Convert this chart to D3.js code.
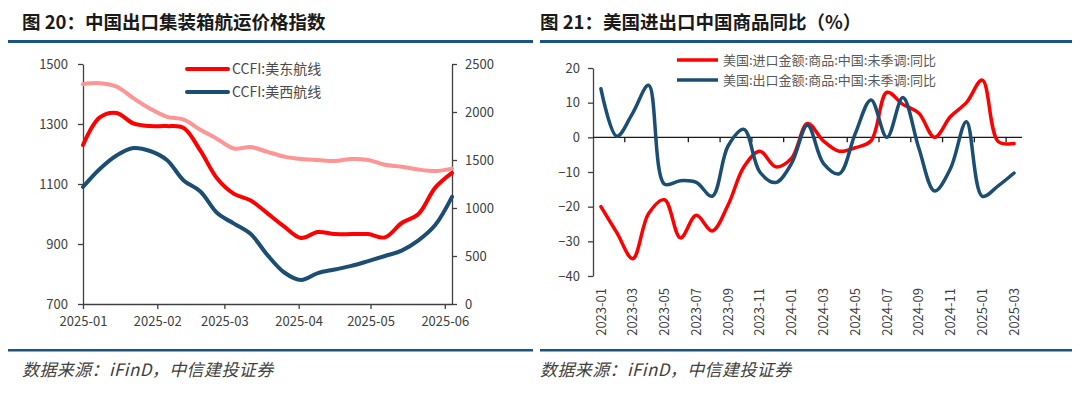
<!DOCTYPE html>
<html>
<head>
<meta charset="utf-8">
<script src="https://cdn.jsdelivr.net/npm/d3@7"></script>
<style>
body{margin:0;background:#fff;}
text{font-family:"Noto Sans CJK SC","Noto Sans",sans-serif;}
</style>
</head>
<body>
<div id="chart"></div>
<script>
// ---- 图20 数据（周度） ----
var datesCCFI = ["2025-01-01","2025-01-08","2025-01-15","2025-01-22","2025-01-29",
  "2025-02-05","2025-02-12","2025-02-19","2025-02-26","2025-03-05","2025-03-12",
  "2025-03-19","2025-03-26","2025-04-02","2025-04-09","2025-04-16","2025-04-23",
  "2025-04-30","2025-05-07","2025-05-14","2025-05-21","2025-05-28","2025-06-04"];
// 左轴
var ccfiEast = [1230,1322,1337,1302,1293,1293,1287,1211,1118,1067,1045,1002,958,920,
  940,933,933,933,922,970,1000,1088,1137];
var ccfiWest = [1090,1150,1195,1220,1210,1180,1112,1075,1003,968,933,863,805,780,
  803,815,827,843,860,878,912,963,1057];
// 浅红线（无图例），右轴
var ccfiOther = [2290,2300,2265,2145,2035,1950,1920,1815,1720,1620,1635,1585,1535,
  1510,1500,1490,1510,1500,1450,1430,1400,1385,1410];
var leftTicks = [700,900,1100,1300,1500];
var rightTicks = [0,500,1000,1500,2000,2500];
var monthTicks = ["2025-01","2025-02","2025-03","2025-04","2025-05","2025-06"];

// ---- 图21 数据（月度，%） ----
var months = ["2023-01","2023-02","2023-03","2023-04","2023-05","2023-06","2023-07",
  "2023-08","2023-09","2023-10","2023-11","2023-12","2024-01","2024-02","2024-03",
  "2024-04","2024-05","2024-06","2024-07","2024-08","2024-09","2024-10","2024-11",
  "2024-12","2025-01","2025-02","2025-03"];
var importYoY = [-20,-27.5,-35,-22,-18,-29,-22.5,-27,-19.5,-8.5,-4,-8.5,-6,4,-1,-4,-3,
  -1,13,9.5,7,0,6,10,16.5,-1.2,-1.8];
var exportYoY = [14,0.3,7,15,-13.5,-12.5,-13,-17,-2.5,2.3,-10,-13,-7.5,3.5,-7.5,-10.5,
  1,10.8,0,11.5,-3,-15.5,-9,4.5,-17,-14,-10.3];
var yTicks21 = [-40,-30,-20,-10,0,10,20];

var red = "#ff0000", navy = "#1b4e72", pink = "#ff9494";
var ruleColor = "#1c5582", axisColor = "#404040", labelColor = "#404040";

var svg = d3.select("#chart").append("svg")
  .attr("width",1080).attr("height",393);

// 标题、横线、来源
function frame(x0,x1,tx,title){
  svg.append("text").attr("x",tx).attr("y",29)
    .attr("font-size","18.5px").attr("font-weight","bold").attr("fill","#1a1a1a")
    .text(title);
  svg.append("rect").attr("x",x0).attr("y",40).attr("width",x1-x0).attr("height",3)
    .attr("fill",ruleColor);
  svg.append("rect").attr("x",x0).attr("y",349).attr("width",x1-x0).attr("height",2.5)
    .attr("fill",ruleColor);
  svg.append("text").attr("x",tx).attr("y",376)
    .attr("font-size","17px").attr("font-style","italic").attr("letter-spacing","0.4px")
    .attr("fill",labelColor)
    .text("数据来源：iFinD，中信建投证券");
}
frame(8,533,22,"图 20：中国出口集装箱航运价格指数");
frame(540,1072,540,"图 21：美国进出口中国商品同比（%）");

function styleAxis(g){
  g.select(".domain").attr("stroke",axisColor).attr("stroke-width",1.3);
  g.selectAll(".tick line").attr("stroke",axisColor).attr("stroke-width",1.3);
  g.selectAll(".tick text").attr("fill",labelColor).attr("font-size","13px")
    .attr("font-family","'Noto Sans CJK SC','Noto Sans',sans-serif");
}

// ================= 图20 =================
var parseDay = d3.timeParse("%Y-%m-%d"), parseMonth = d3.timeParse("%Y-%m");
var x20 = d3.scaleTime().domain([parseDay("2025-01-01"),parseDay("2025-06-04")]).range([83,452]);
var yL = d3.scaleLinear().domain([700,1500]).range([304,64]);
var yR = d3.scaleLinear().domain([0,2500]).range([304,64]);

svg.append("g").attr("transform","translate(83,0)")
  .call(d3.axisLeft(yL).tickValues(leftTicks).tickFormat(d3.format("d"))
    .tickSize(5).tickSizeOuter(0).tickPadding(10))
  .call(styleAxis);
svg.append("g").attr("transform","translate(452,0)")
  .call(d3.axisRight(yR).tickValues(rightTicks).tickFormat(d3.format("d"))
    .tickSize(5).tickSizeOuter(0).tickPadding(8))
  .call(styleAxis);
svg.append("g").attr("transform","translate(0,304)")
  .call(d3.axisBottom(x20).tickValues(monthTicks.map(parseMonth)).tickSize(5).tickSizeOuter(0)
    .tickPadding(8).tickFormat(d3.timeFormat("%Y-%m")))
  .call(styleAxis);

function drawSeries(xs,vals,xf,yf,color,w){
  var line = d3.line().curve(d3.curveCatmullRom.alpha(0.5))
    .x(function(d){return xf(d[0]);}).y(function(d){return yf(d[1]);});
  svg.append("path").datum(xs.map(function(v,i){return [v,vals[i]];}))
    .attr("d",line).attr("fill","none").attr("stroke",color)
    .attr("stroke-width",w).attr("stroke-linecap","round").attr("stroke-linejoin","round");
}
var dts = datesCCFI.map(parseDay);
drawSeries(dts,ccfiOther,x20,yR,pink,4);
drawSeries(dts,ccfiWest,x20,yL,navy,4);
drawSeries(dts,ccfiEast,x20,yL,red,4);

// 图例
var leg20 = [["CCFI:美东航线",red],["CCFI:美西航线",navy]];
leg20.forEach(function(l,i){
  var yy = 69 + i*23;
  svg.append("line").attr("x1",187).attr("x2",228).attr("y1",yy).attr("y2",yy)
    .attr("stroke",l[1]).attr("stroke-width",4).attr("stroke-linecap","round");
  svg.append("text").attr("x",232).attr("y",yy+5).attr("font-size","14px")
    .attr("fill","#4a4a4a").text(l[0]);
});

// ================= 图21 =================
var x21 = d3.scaleBand().domain(months).range([593,1022]).padding(0);
var y21 = d3.scaleLinear().domain([-40,20]).range([276,68]);
var bw = x21.bandwidth();

svg.append("g").attr("transform","translate(593,0)")
  .call(d3.axisLeft(y21).tickValues(yTicks21).tickSize(5).tickSizeOuter(0).tickPadding(8))
  .call(styleAxis);

// 零轴与刻度（每两个月）
svg.append("line").attr("x1",593).attr("x2",1022).attr("y1",y21(0)).attr("y2",y21(0))
  .attr("stroke","#1a1a1a").attr("stroke-width",1.3);
months.forEach(function(m,i){
  if(i>0 && i%2==0){
    svg.append("line").attr("x1",x21(m)).attr("x2",x21(m))
      .attr("y1",y21(0)).attr("y2",y21(0)+5).attr("stroke","#1a1a1a").attr("stroke-width",1.3);
  }
  if(i%2==0){
    svg.append("text")
      .attr("transform","translate("+(x21(m)+bw/2)+",288) rotate(-90)")
      .attr("text-anchor","end").attr("dy","0.35em").attr("font-size","13px")
      .attr("fill",labelColor).text(m);
  }
});

var cx = function(m){return x21(m)+bw/2;};
drawSeries(months,importYoY,cx,y21,red,3.5);
drawSeries(months,exportYoY,cx,y21,navy,3.5);

var leg21 = [["美国:进口金额:商品:中国:未季调:同比",red],["美国:出口金额:商品:中国:未季调:同比",navy]];
leg21.forEach(function(l,i){
  var yy = 60 + i*20;
  svg.append("line").attr("x1",677).attr("x2",718).attr("y1",yy).attr("y2",yy)
    .attr("stroke",l[1]).attr("stroke-width",3.5);
  svg.append("text").attr("x",723).attr("y",yy+5).attr("font-size","13px")
    .attr("fill","#595959").text(l[0]);
});
</script>
</body>
</html>
